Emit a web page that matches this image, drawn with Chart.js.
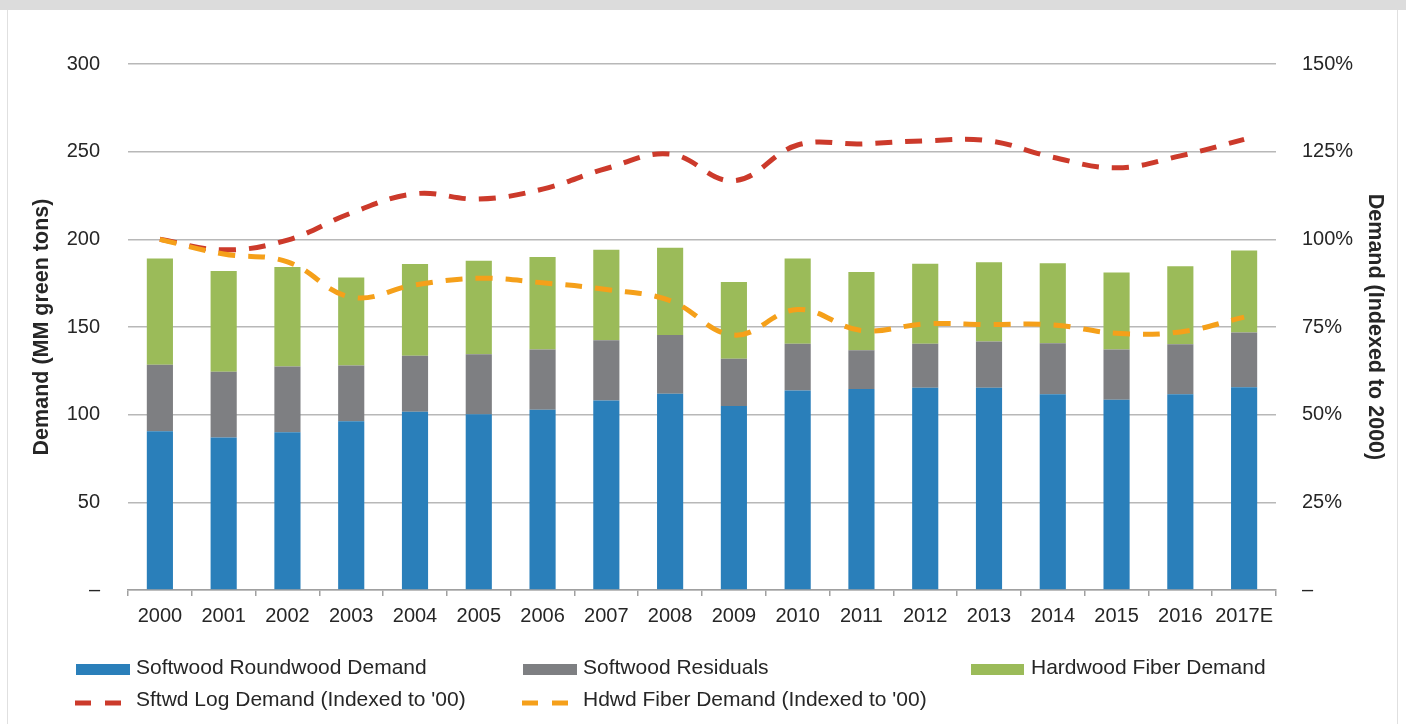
<!DOCTYPE html>
<html><head><meta charset="utf-8">
<script src="https://cdn.jsdelivr.net/npm/chart.js@4.4.1/dist/chart.umd.min.js"></script>
<style>
html,body{margin:0;padding:0;background:#fff;}
#wrap{position:relative;width:1406px;height:724px;overflow:hidden;background:#fff;}
#band{position:absolute;left:0;top:0;width:1406px;height:10px;background:#dcdcdc;}
#lb{position:absolute;left:7px;top:10px;width:1px;height:714px;background:#e0e0e0;}
#rb{position:absolute;left:1397px;top:10px;width:1px;height:714px;background:#e0e0e0;}
canvas{position:absolute;left:0;top:0;}
</style></head>
<body><div id="wrap"><div id="band"></div><div id="lb"></div><div id="rb"></div><canvas id="c" width="1406" height="724"></canvas></div>
<script>
const categories = ['2000','2001','2002','2003','2004','2005','2006','2007','2008','2009','2010','2011','2012','2013','2014','2015','2016','2017E'];
const softwoodRoundwood = [90.5, 87, 90, 96.3, 101.7, 100.3, 102.8, 108.1, 112, 104.9, 113.8, 114.6, 115.4, 115.4, 111.6, 108.5, 111.6, 115.7];
const softwoodResiduals = [38, 37.5, 37.5, 31.8, 31.9, 34.1, 34.4, 34.3, 33.4, 27, 26.7, 22.1, 25.1, 26.4, 29.2, 28.7, 28.5, 31.2];
const hardwoodFiber = [60.6, 57.4, 56.7, 50.2, 52.3, 53.4, 52.7, 51.7, 49.8, 43.7, 48.6, 44.6, 45.6, 45.2, 45.6, 43.9, 44.5, 46.8];
const sftwdLogIndex = [100, 97, 99.8, 107.5, 113, 111.5, 114.3, 120.2, 124.3, 116.7, 126.9, 127.2, 128.1, 128.1, 123.4, 120.4, 123.8, 128.5];
const hdwdFiberIndex = [100, 95.8, 93.6, 83.5, 87, 88.9, 87.6, 85.7, 82.5, 72.7, 80, 74, 75.9, 75.7, 75.6, 73.2, 73.6, 77.8];
const leftTicks = [0, 50, 100, 150, 200, 250, 300];
const rightTicks = [0, 25, 50, 75, 100, 125, 150];

const FONT = "'Liberation Sans', Arial, sans-serif";
const TXT = '#262626';
Chart.defaults.font.family = FONT;
Chart.defaults.font.size = 20;
Chart.defaults.color = TXT;

const legendPlugin = {
  id: 'gridLegend',
  afterDraw(chart) {
    const ctx = chart.ctx;
    const ds = chart.data.datasets;
    const items = [
      {i:0, kind:'box', x:76, y:669.5, w:54, tx:136, ty:668},
      {i:1, kind:'box', x:523, y:669.5, w:54, tx:583, ty:668},
      {i:2, kind:'box', x:971, y:669.5, w:53, tx:1031, ty:668},
      {i:3, kind:'line', x:75, y:703, w:46, tx:136, ty:700},
      {i:4, kind:'line', x:522, y:703, w:46, tx:583, ty:700}
    ];
    ctx.save();
    items.forEach(it => {
      const d = ds[it.i];
      if (it.kind === 'box') {
        ctx.fillStyle = d.backgroundColor;
        ctx.fillRect(it.x, it.y - 5.5, it.w, 11);
      } else {
        ctx.strokeStyle = d.borderColor;
        ctx.lineWidth = 5;
        ctx.setLineDash([16, 14]);
        ctx.beginPath();
        ctx.moveTo(it.x, it.y);
        ctx.lineTo(it.x + it.w, it.y);
        ctx.stroke();
        ctx.setLineDash([]);
      }
      ctx.fillStyle = TXT;
      ctx.font = '21px ' + FONT;
      ctx.textBaseline = 'middle';
      ctx.textAlign = 'left';
      ctx.fillText(d.label, it.tx, it.ty);
    });
    ctx.restore();
  }
};

new Chart(document.getElementById('c'), {
  type: 'bar',
  data: {
    labels: categories,
    datasets: [
      {label:'Softwood Roundwood Demand', data:softwoodRoundwood, backgroundColor:'#2a7fba', yAxisID:'y', stack:'s', order:3, barPercentage:0.41, categoryPercentage:1},
      {label:'Softwood Residuals', data:softwoodResiduals, backgroundColor:'#7e7f82', yAxisID:'y', stack:'s', order:3, barPercentage:0.41, categoryPercentage:1},
      {label:'Hardwood Fiber Demand', data:hardwoodFiber, backgroundColor:'#9bbb59', yAxisID:'y', stack:'s', order:3, barPercentage:0.41, categoryPercentage:1},
      {type:'line', label:"Sftwd Log Demand (Indexed to '00)", data:sftwdLogIndex, borderColor:'#cc3a2b', backgroundColor:'#cc3a2b', yAxisID:'y1', borderWidth:5, borderDash:[17,13], pointRadius:0, tension:0.4, fill:false, order:2},
      {type:'line', label:"Hdwd Fiber Demand (Indexed to '00)", data:hdwdFiberIndex, borderColor:'#f5a01a', backgroundColor:'#f5a01a', yAxisID:'y1', borderWidth:5, borderDash:[17,13], pointRadius:0, tension:0.4, fill:false, order:1}
    ]
  },
  options: {
    responsive: false,
    animation: false,
    devicePixelRatio: 1,
    layout: {padding: {top: 64, bottom: 94, left: 0, right: 0}},
    plugins: {legend: {display: false}, tooltip: {enabled: false}},
    scales: {
      x: {
        stacked: true,
        grid: {display: true, offset: true, drawOnChartArea: false, drawTicks: true, tickLength: 6, color: '#a0a0a0', lineWidth: 1.5},
        border: {display: true, color: '#a0a0a0', width: 1.5},
        ticks: {padding: 8, font: {size: 20}, color: TXT, maxRotation: 0, autoSkip: false},
        afterFit(s) { s.height = 40; }
      },
      y: {
        stacked: true,
        position: 'left',
        min: 0, max: 300,
        afterBuildTicks(s) { s.ticks = leftTicks.map(v => ({value: v})); },
        ticks: {padding: 28, font: {size: 20}, color: TXT, callback: v => v === 0 ? '–' : String(v)},
        grid: {color: '#b8b8b8', lineWidth: 1.5, drawTicks: false},
        border: {display: false},
        title: {display: true, text: 'Demand (MM green tons)', font: {size: 21.5, weight: 'bold'}, color: TXT, padding: {top: 29, bottom: 0}},
        afterFit(s) { s.width = 128; }
      },
      y1: {
        position: 'right',
        min: 0, max: 150,
        afterBuildTicks(s) { s.ticks = rightTicks.map(v => ({value: v})); },
        ticks: {padding: 26, font: {size: 20}, color: TXT, callback: v => v === 0 ? '–' : v + '%'},
        grid: {display: false, drawTicks: false},
        border: {display: false},
        title: {display: true, text: 'Demand (Indexed to 2000)', font: {size: 21.5, weight: 'bold'}, color: TXT, padding: {top: 18, bottom: 0}},
        afterFit(s) { s.width = 130; }
      }
    }
  },
  plugins: [legendPlugin]
});
</script>
</body></html>
